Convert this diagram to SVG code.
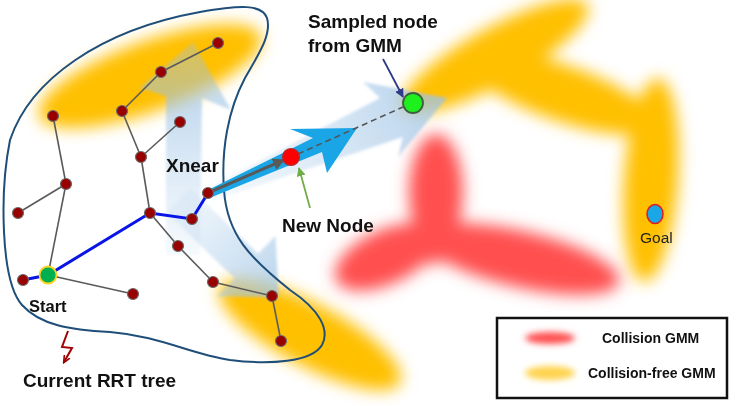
<svg xmlns="http://www.w3.org/2000/svg" width="736" height="406" viewBox="0 0 736 406">
  <defs>
    <style>
      .lbl { font-family: "Liberation Sans", Arial, sans-serif; font-weight: bold; fill: #111; }
      .edge { stroke: #5a5a5a; stroke-width: 1.6; fill: none; }
      .path { stroke: #0a14e6; stroke-width: 3; fill: none; stroke-linecap: round; }
      .node { fill: #990000; stroke: #6b6b6b; stroke-width: 1.2; }
      .leg { font-family: "Liberation Sans", Arial, sans-serif; font-weight: bold; font-size: 14px; fill: #111; }
    </style>
    <filter id="soft" x="-30%" y="-30%" width="160%" height="160%">
      <feGaussianBlur stdDeviation="8"/>
    </filter>
    <filter id="softS" x="-50%" y="-100%" width="200%" height="300%">
      <feGaussianBlur stdDeviation="3"/>
    </filter>
    <filter id="haze" x="-20%" y="-20%" width="140%" height="140%">
      <feGaussianBlur stdDeviation="1.5"/>
    </filter>
    <linearGradient id="paleUp" x1="0" y1="1" x2="0" y2="0">
      <stop offset="0" stop-color="#bdd7ee" stop-opacity="0.15"/>
      <stop offset="0.7" stop-color="#9dc3e6" stop-opacity="0.6"/>
      <stop offset="1" stop-color="#9dc3e6" stop-opacity="0.35"/>
    </linearGradient>
    <linearGradient id="paleDown" x1="0" y1="0" x2="1" y2="0">
      <stop offset="0" stop-color="#bdd7ee" stop-opacity="0.2"/>
      <stop offset="1" stop-color="#9dc3e6" stop-opacity="0.75"/>
    </linearGradient>
    <linearGradient id="paleRight" gradientUnits="userSpaceOnUse" x1="210" y1="195" x2="440" y2="100">
      <stop offset="0" stop-color="#bdd7ee" stop-opacity="0.15"/>
      <stop offset="1" stop-color="#9dc3e6" stop-opacity="0.75"/>
    </linearGradient>
    <marker id="mGray" viewBox="0 0 10 10" refX="9" refY="5" markerWidth="4" markerHeight="4" orient="auto">
      <path d="M0,0 L10,5 L0,10 z" fill="#595959"/>
    </marker>
    <marker id="mNavy" viewBox="0 0 10 10" refX="9" refY="5" markerWidth="5" markerHeight="5" orient="auto">
      <path d="M0,0 L10,5 L0,10 z" fill="#2e3a87"/>
    </marker>
    <marker id="mGreen" viewBox="0 0 10 10" refX="9" refY="5" markerWidth="5" markerHeight="5" orient="auto">
      <path d="M0,0 L10,5 L0,10 z" fill="#70ad47"/>
    </marker>
    <marker id="mRed" viewBox="0 0 10 10" refX="8" refY="5" markerWidth="4" markerHeight="4" orient="auto">
      <path d="M0,1 L9,5 L0,9" fill="none" stroke="#a00000" stroke-width="2"/>
    </marker>
  </defs>

  <rect width="736" height="406" fill="#ffffff"/>

  <!-- collision-free regions -->
  <g id="free-gmm" fill="#ffc000" filter="url(#soft)">
    <ellipse cx="150" cy="76" rx="118" ry="35" transform="rotate(-20 150 76)"/>
    <ellipse cx="310" cy="335" rx="102" ry="31" transform="rotate(28 310 335)"/>
    <ellipse cx="495" cy="56" rx="106" ry="28" transform="rotate(-29 495 56)"/>
    <ellipse cx="562" cy="93" rx="98" ry="28" transform="rotate(19 562 93)"/>
    <ellipse cx="651" cy="180" rx="27" ry="102" transform="rotate(4 651 180)"/>
  </g>

  <!-- collision regions -->
  <g id="collision-gmm" fill="#ff5050" filter="url(#soft)">
    <ellipse cx="436" cy="192" rx="27" ry="58"/>
    <ellipse cx="386" cy="257" rx="55" ry="27" transform="rotate(-25 386 257)"/>
    <ellipse cx="520" cy="259" rx="102" ry="28" transform="rotate(13 520 259)"/>
    <circle cx="430" cy="240" r="24"/>
  </g>

  <!-- pale expansion arrows -->
  <g id="expansion-arrows" filter="url(#haze)">
    <polygon points="166,255 166,96 140,88 193,42 231,110 202,98 200,255" fill="url(#paleUp)"/>
    <g transform="translate(178 200) rotate(44)">
      <polygon points="0,-17 95,-17 95,-42 140,0 95,42 95,17 0,17" fill="url(#paleDown)"/>
    </g>
    <polygon points="207,188 380,98 363,82 447,98 398,157 403,137 212,201" fill="url(#paleRight)"/>
  </g>

  <!-- tree boundary -->
  <path id="tree-boundary" d="M 10,140 C 30,80 100,30 200,12 C 240,5 262,4 267,18 C 272,35 258,55 245,78 C 228,110 221,150 224,190 C 227,235 250,258 290,290 C 320,310 330,330 322,345 C 312,362 270,365 230,360 C 190,354 160,336 110,332 C 70,330 40,325 22,305 C 0,280 0,190 10,140 Z" fill="none" stroke="#1f4e79" stroke-width="2"/>

  <!-- extension direction -->
  <polygon id="extend-arrow" points="208,190 313,138 290,129 357,128 327,173 322,152 212,197" fill="#1aa5e6"/>

  <g id="connectors">
    <line class="edge" x1="48" y1="275" x2="66" y2="184"/>
    <line class="edge" x1="66" y1="184" x2="18" y2="213"/>
    <line class="edge" x1="66" y1="184" x2="53" y2="116"/>
    <line class="edge" x1="48" y1="275" x2="133" y2="294"/>
    <line class="edge" x1="150" y1="213" x2="141" y2="157"/>
    <line class="edge" x1="141" y1="157" x2="180" y2="122"/>
    <line class="edge" x1="141" y1="157" x2="122" y2="111"/>
    <line class="edge" x1="122" y1="111" x2="161" y2="72"/>
    <line class="edge" x1="161" y1="72" x2="218" y2="43"/>
    <line class="edge" x1="150" y1="213" x2="178" y2="246"/>
    <line class="edge" x1="178" y1="246" x2="213" y2="282"/>
    <line class="edge" x1="213" y1="282" x2="272" y2="296"/>
    <line class="edge" x1="272" y1="296" x2="281" y2="341"/>
    <polyline class="path" points="23,280 48,275 150,213 192,219 208,193"/>
    <line x1="210" y1="192" x2="284" y2="160" stroke="#595959" stroke-width="3" marker-end="url(#mGray)"/>
    <line x1="298" y1="154" x2="403" y2="107" stroke="#555" stroke-width="1.6" stroke-dasharray="6 4"/>
    <line x1="383" y1="59" x2="403" y2="97" stroke="#2e3a87" stroke-width="1.8" marker-end="url(#mNavy)"/>
    <line x1="310" y1="208" x2="299" y2="168" stroke="#70ad47" stroke-width="1.8" marker-end="url(#mGreen)"/>
    <polyline points="68,331 62,347 72,348 64,362" fill="none" stroke="#a00000" stroke-width="2" marker-end="url(#mRed)"/>
  </g>

  <!-- tree nodes -->
  <g id="n1"><circle class="node" cx="218" cy="43" r="5.5"/></g>
  <g id="n2"><circle class="node" cx="161" cy="72" r="5.5"/></g>
  <g id="n3"><circle class="node" cx="122" cy="111" r="5.5"/></g>
  <g id="n4"><circle class="node" cx="180" cy="122" r="5.5"/></g>
  <g id="n5"><circle class="node" cx="141" cy="157" r="5.5"/></g>
  <g id="n6"><circle class="node" cx="53" cy="116" r="5.5"/></g>
  <g id="n7"><circle class="node" cx="66" cy="184" r="5.5"/></g>
  <g id="n8"><circle class="node" cx="18" cy="213" r="5.5"/></g>
  <g id="n9"><circle class="node" cx="150" cy="213" r="5.5"/></g>
  <g id="n10"><circle class="node" cx="192" cy="219" r="5.5"/></g>
  <g id="xnear"><circle class="node" cx="208" cy="193" r="5.5"/><text class="lbl" x="166" y="172" font-size="19">Xnear</text></g>
  <g id="n12"><circle class="node" cx="178" cy="246" r="5.5"/></g>
  <g id="n13"><circle class="node" cx="213" cy="282" r="5.5"/></g>
  <g id="n14"><circle class="node" cx="272" cy="296" r="5.5"/></g>
  <g id="n15"><circle class="node" cx="281" cy="341" r="5.5"/></g>
  <g id="n16"><circle class="node" cx="23" cy="280" r="5.5"/></g>
  <g id="n17"><circle class="node" cx="133" cy="294" r="5.5"/></g>

  <g id="start">
    <circle cx="48" cy="275" r="8.5" fill="#00b050" stroke="#ffd21f" stroke-width="1.8"/>
    <text class="lbl" x="29" y="312" font-size="16.5">Start</text>
  </g>

  <g id="new-node">
    <circle cx="291" cy="157" r="8.5" fill="#ff0000" stroke="#b03030" stroke-width="1.2"/>
    <text class="lbl" x="282" y="232" font-size="19">New Node</text>
  </g>

  <g id="sampled-node">
    <circle cx="413" cy="103" r="10" fill="#1ef01e" stroke="#3f5f3f" stroke-width="1.8"/>
    <text class="lbl" x="308" y="28" font-size="19">Sampled node</text>
    <text class="lbl" x="308" y="52" font-size="19">from GMM</text>
  </g>

  <g id="goal">
    <ellipse cx="655" cy="214" rx="8" ry="9.5" fill="#1aa7e8" stroke="#e0201b" stroke-width="1.6"/>
    <text x="640" y="243" font-family="'Liberation Sans', Arial, sans-serif" font-size="15.5" fill="#222">Goal</text>
  </g>

  <g id="tree-label">
    <text class="lbl" x="23" y="387" font-size="19">Current RRT tree</text>
  </g>

  <g id="legend">
    <rect x="497" y="318" width="230" height="80" fill="#ffffff" stroke="#111" stroke-width="2.5"/>
    <ellipse cx="550" cy="338" rx="25" ry="6" fill="#ff5050" filter="url(#softS)"/>
    <ellipse cx="550" cy="373" rx="25" ry="7" fill="#ffd34d" filter="url(#softS)"/>
    <text class="leg" x="602" y="343">Collision GMM</text>
    <text class="leg" x="588" y="378">Collision-free GMM</text>
  </g>
</svg>
